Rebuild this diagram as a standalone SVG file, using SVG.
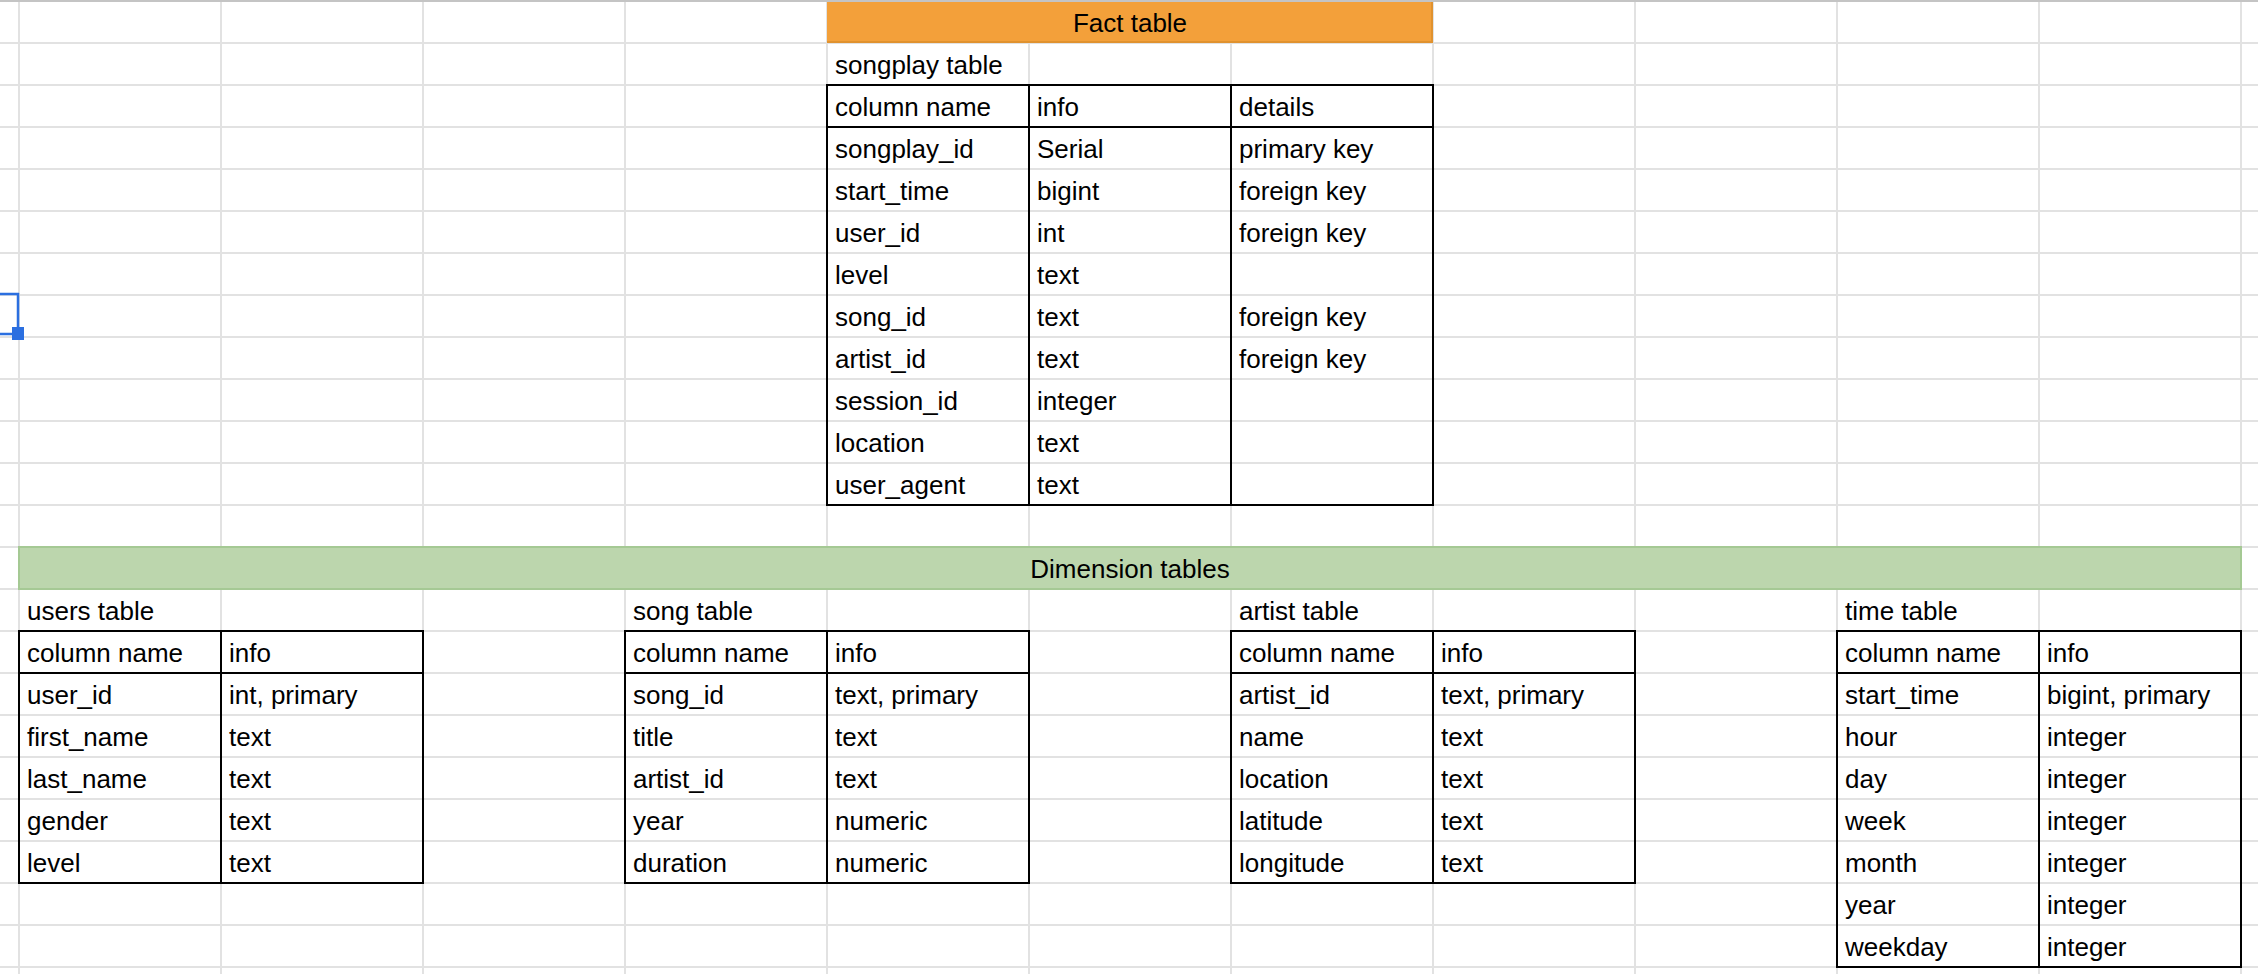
<svg xmlns="http://www.w3.org/2000/svg" width="2258" height="974" viewBox="0 0 2258 974">
<style>
.g{stroke:#e2e2e2;stroke-width:2}
.b{fill:none;stroke:#000;stroke-width:2}
.t{font-family:"Liberation Sans",Arial,sans-serif;font-size:26px;fill:#000}
.c{text-anchor:middle}
</style>
<rect width="2258" height="974" fill="#fff"/>
<g id="grid">
<rect x="0" y="0" width="2258" height="2" fill="#c4c4c4"/>
<path class="g" d="M19 2V974M221 2V974M423 2V974M625 2V974M827 2V974M1029 2V974M1231 2V974M1433 2V974M1635 2V974M1837 2V974M2039 2V974M2241 2V974"/>
<path class="g" d="M0 43H2258M0 85H2258M0 127H2258M0 169H2258M0 211H2258M0 253H2258M0 295H2258M0 337H2258M0 379H2258M0 421H2258M0 463H2258M0 505H2258M0 547H2258M0 589H2258M0 631H2258M0 673H2258M0 715H2258M0 757H2258M0 799H2258M0 841H2258M0 883H2258M0 925H2258M0 967H2258"/>
</g>
<g id="selection">
<path d="M0 294H19M18 293V330M0 334H14" fill="none" stroke="#2b6fe0" stroke-width="2.5"/>
<rect x="12" y="327" width="12" height="13" fill="#2b6fe0"/>
</g>
<g id="fact-table">
<rect x="827" y="2" width="606" height="41" fill="#f3a03a"/>
<path d="M1432 2V42H827" fill="none" stroke="#e0922f" stroke-width="2"/>
<text class="t c" x="1130" y="32">Fact table</text>
<text class="t" x="835" y="74">songplay table</text>
<rect class="b" x="827" y="85" width="606" height="420"/>
<path class="b" d="M827 127H1433M1029 85V505M1231 85V505"/>
<g class="t">
<text x="835" y="116">column name</text><text x="1037" y="116">info</text><text x="1239" y="116">details</text>
<text x="835" y="158">songplay_id</text><text x="1037" y="158">Serial</text><text x="1239" y="158">primary key</text>
<text x="835" y="200">start_time</text><text x="1037" y="200">bigint</text><text x="1239" y="200">foreign key</text>
<text x="835" y="242">user_id</text><text x="1037" y="242">int</text><text x="1239" y="242">foreign key</text>
<text x="835" y="284">level</text><text x="1037" y="284">text</text>
<text x="835" y="326">song_id</text><text x="1037" y="326">text</text><text x="1239" y="326">foreign key</text>
<text x="835" y="368">artist_id</text><text x="1037" y="368">text</text><text x="1239" y="368">foreign key</text>
<text x="835" y="410">session_id</text><text x="1037" y="410">integer</text>
<text x="835" y="452">location</text><text x="1037" y="452">text</text>
<text x="835" y="494">user_agent</text><text x="1037" y="494">text</text>
</g>
</g>
<g id="dimension-header">
<rect x="19" y="547" width="2222" height="42" fill="#bcd6ad" stroke="#a5c994" stroke-width="2"/>
<text class="t c" x="1130" y="578">Dimension tables</text>
</g>
<g id="users-table">
<text class="t" x="27" y="620">users table</text>
<rect class="b" x="19" y="631" width="404" height="252"/>
<path class="b" d="M19 673H423M221 631V883"/>
<g class="t">
<text x="27" y="662">column name</text><text x="229" y="662">info</text>
<text x="27" y="704">user_id</text><text x="229" y="704">int, primary</text>
<text x="27" y="746">first_name</text><text x="229" y="746">text</text>
<text x="27" y="788">last_name</text><text x="229" y="788">text</text>
<text x="27" y="830">gender</text><text x="229" y="830">text</text>
<text x="27" y="872">level</text><text x="229" y="872">text</text>
</g>
</g>
<g id="song-table">
<text class="t" x="633" y="620">song table</text>
<rect class="b" x="625" y="631" width="404" height="252"/>
<path class="b" d="M625 673H1029M827 631V883"/>
<g class="t">
<text x="633" y="662">column name</text><text x="835" y="662">info</text>
<text x="633" y="704">song_id</text><text x="835" y="704">text, primary</text>
<text x="633" y="746">title</text><text x="835" y="746">text</text>
<text x="633" y="788">artist_id</text><text x="835" y="788">text</text>
<text x="633" y="830">year</text><text x="835" y="830">numeric</text>
<text x="633" y="872">duration</text><text x="835" y="872">numeric</text>
</g>
</g>
<g id="artist-table">
<text class="t" x="1239" y="620">artist table</text>
<rect class="b" x="1231" y="631" width="404" height="252"/>
<path class="b" d="M1231 673H1635M1433 631V883"/>
<g class="t">
<text x="1239" y="662">column name</text><text x="1441" y="662">info</text>
<text x="1239" y="704">artist_id</text><text x="1441" y="704">text, primary</text>
<text x="1239" y="746">name</text><text x="1441" y="746">text</text>
<text x="1239" y="788">location</text><text x="1441" y="788">text</text>
<text x="1239" y="830">latitude</text><text x="1441" y="830">text</text>
<text x="1239" y="872">longitude</text><text x="1441" y="872">text</text>
</g>
</g>
<g id="time-table">
<text class="t" x="1845" y="620">time table</text>
<rect class="b" x="1837" y="631" width="404" height="336"/>
<path class="b" d="M1837 673H2241M2039 631V967"/>
<g class="t">
<text x="1845" y="662">column name</text><text x="2047" y="662">info</text>
<text x="1845" y="704">start_time</text><text x="2047" y="704">bigint, primary</text>
<text x="1845" y="746">hour</text><text x="2047" y="746">integer</text>
<text x="1845" y="788">day</text><text x="2047" y="788">integer</text>
<text x="1845" y="830">week</text><text x="2047" y="830">integer</text>
<text x="1845" y="872">month</text><text x="2047" y="872">integer</text>
<text x="1845" y="914">year</text><text x="2047" y="914">integer</text>
<text x="1845" y="956">weekday</text><text x="2047" y="956">integer</text>
</g>
</g>
<g id="connectors"/>
</svg>
